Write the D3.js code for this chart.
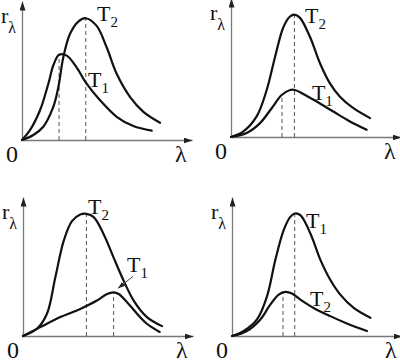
<!DOCTYPE html>
<html>
<head>
<meta charset="utf-8">
<script src="https://cdn.jsdelivr.net/npm/d3@7"></script>
<style>
  body { margin: 0; background: #fff; }
</style>
</head>
<body>
<div id="chart"></div>
<script>
// curve samples, [lambda, r] in arbitrary units (0..10)
const p1T1 = [[0,0],[0.47,0.71],[1.06,2.14],[1.55,4.05],[1.84,5.36],[2.18,6.14],[2.63,6.07],[3.2,5.24],[3.8,4.05],[4.59,2.86],[5.57,1.67],[6.55,1.0],[7.63,0.67]];
const p1T2 = [[0,0],[0.67,0.36],[1.25,0.95],[1.84,2.38],[2.14,3.81],[2.43,5.95],[2.82,7.62],[3.31,8.52],[3.75,8.76],[4.39,8.21],[4.98,6.67],[5.57,4.76],[6.35,3.1],[7.14,2.02],[8.12,1.24]];

const p2T1 = [[0,0],[0.92,0.29],[1.71,1.0],[2.39,2.07],[2.98,3.02],[3.47,3.38],[3.76,3.38],[4.25,3.1],[5.04,2.55],[6.02,1.83],[7.0,1.12],[7.98,0.52]];
const p2T2 = [[0,0],[0.73,0.4],[1.51,1.48],[2.1,3.38],[2.59,5.76],[3.08,7.9],[3.47,8.67],[3.73,8.81],[4.06,8.57],[4.65,7.19],[5.24,5.29],[5.82,3.86],[6.41,2.9],[7.2,2.07],[8.18,1.36]];

const p3T1 = [[0,0],[1.02,0.64],[2.2,1.36],[3.37,1.95],[4.35,2.55],[4.94,3.02],[5.33,3.14],[5.63,3.02],[6.12,2.43],[6.71,1.6],[7.29,0.88],[8.04,0.29]];
const p3T2 = [[0,0],[0.82,0.52],[1.41,1.6],[1.9,4.21],[2.39,6.83],[2.88,8.26],[3.37,8.74],[3.73,8.79],[4.16,8.55],[4.75,7.31],[5.33,5.64],[5.92,3.98],[6.51,2.55],[7.29,1.36],[8.18,0.71]];

const p4T1 = [[0,0],[0.69,0.36],[1.47,1.19],[2.06,2.86],[2.55,5.48],[3.04,7.62],[3.43,8.57],[3.69,8.81],[4.02,8.69],[4.61,7.38],[5.2,5.48],[5.78,4.05],[6.37,2.98],[7.16,2.02],[8.14,1.31]];
const p4T2 = [[0,0],[0.88,0.36],[1.67,1.19],[2.25,2.26],[2.75,2.98],[3.14,3.17],[3.53,3.05],[4.02,2.62],[4.8,2.02],[5.78,1.43],[6.76,0.9],[7.94,0.36]];

// dashed drop lines [lambda, r]
const p1Dash = [[2.18,6.14],[3.75,8.76]];
const p2Dash = [[3.0,3.0],[3.73,8.81]];
const p3Dash = [[3.73,8.79],[5.33,3.14]];
const p4Dash = [[3.0,3.1],[3.69,8.81]];

const curveNames = ["1", "2"];   // subscripts of T
const axisLabels = ["r", "\u03bb", "0"];

const serif = "'Liberation Serif', 'Times New Roman', 'DejaVu Serif', serif";
const width = 400, height = 363;
const svg = d3.select("#chart").append("svg")
  .attr("width", width).attr("height", height)
  .attr("font-family", serif);

const defs = svg.append("defs");
defs.append("marker")
  .attr("id", "arrow")
  .attr("viewBox", "0 -3 9 6")
  .attr("refX", 9).attr("refY", 0)
  .attr("markerUnits", "userSpaceOnUse")
  .attr("markerWidth", 9).attr("markerHeight", 6)
  .attr("orient", "auto")
  .append("path").attr("d", "M0,-3L9,0L0,3Z").attr("fill", "#222");
defs.append("marker")
  .attr("id", "arrowSmall")
  .attr("viewBox", "0 -2.5 7 5")
  .attr("refX", 7).attr("refY", 0)
  .attr("markerUnits", "userSpaceOnUse")
  .attr("markerWidth", 7).attr("markerHeight", 5)
  .attr("orient", "auto")
  .append("path").attr("d", "M0,-2.5L7,0L0,2.5Z").attr("fill", "#222");

// layout of the four panels; label anchors in data units
const panels = [
  { ox: 22,  oy: 140, curves: [p1T1, p1T2], dash: p1Dash, lab: [[3.88,3.79],[4.41,8.57]] },
  { ox: 231, oy: 137, curves: [p2T1, p2T2], dash: p2Dash, lab: [[4.76,2.64],[4.35,8.21]] },
  { ox: 23,  oy: 336, curves: [p3T1, p3T2], dash: p3Dash, lab: [[6.12,4.57],[3.82,8.79]], pointer: [[6.47,4.29],[5.59,3.43]] },
  { ox: 232, oy: 336, curves: [p4T2, p4T1], dash: p4Dash, lab: [[4.59,2.14],[4.35,7.79]], swap: true }
];

panels.forEach(p => {
  const x = d3.scaleLinear().domain([0, 10]).range([p.ox, p.ox + 170]);
  const y = d3.scaleLinear().domain([0, 10]).range([p.oy, p.oy - 139]);
  const g = svg.append("g");

  // axes
  const xa = g.append("g").attr("transform", `translate(0,${p.oy})`)
    .call(d3.axisBottom(x).ticks(0).tickSizeOuter(0));
  const ya = g.append("g").attr("transform", `translate(${p.ox},0)`)
    .call(d3.axisLeft(y).ticks(0).tickSizeOuter(0));
  [xa, ya].forEach(a => a.select(".domain")
    .attr("stroke", "#7a7a7a").attr("stroke-width", 1.3)
    .attr("marker-end", "url(#arrow)"));

  // dashed drop lines
  g.selectAll(".drop").data(p.dash).join("line")
    .attr("x1", d => x(d[0])).attr("x2", d => x(d[0]))
    .attr("y1", y(0)).attr("y2", d => y(d[1]))
    .attr("stroke", "#555").attr("stroke-width", 1)
    .attr("stroke-dasharray", "4,3");

  // curves
  const line = d3.line().x(d => x(d[0])).y(d => y(d[1]))
    .curve(d3.curveCatmullRom.alpha(0.5));
  g.selectAll(".curve").data(p.curves).join("path")
    .attr("d", line)
    .attr("fill", "none").attr("stroke", "#111").attr("stroke-width", 2.2)
    .attr("stroke-linecap", "round");

  // T labels
  p.lab.forEach((pos, i) => {
    const name = p.swap ? curveNames[1 - i] : curveNames[i];
    const t = g.append("text").attr("x", x(pos[0])).attr("y", y(pos[1]))
      .attr("font-family", serif).attr("fill", "#111")
      .attr("font-size", 22).text("T");
    t.append("tspan").attr("font-size", 15).attr("dy", 6).text(name);
  });

  if (p.pointer) {
    g.append("line")
      .attr("x1", x(p.pointer[0][0])).attr("y1", y(p.pointer[0][1]))
      .attr("x2", x(p.pointer[1][0])).attr("y2", y(p.pointer[1][1]))
      .attr("stroke", "#444").attr("stroke-width", 1)
      .attr("marker-end", "url(#arrowSmall)");
  }

  // axis labels
  const r = g.append("text").attr("x", p.ox - 21).attr("y", p.oy - 117)
    .attr("font-family", serif).attr("fill", "#111")
    .attr("font-size", 22).text(axisLabels[0]);
  r.append("tspan").attr("font-size", 16).attr("dy", 10).text(axisLabels[1]);
  g.append("text").attr("x", p.ox + 153).attr("y", p.oy + 22)
    .attr("font-family", serif).attr("fill", "#111")
    .attr("font-size", 24).text(axisLabels[1]);
  g.append("text").attr("x", p.ox - 16).attr("y", p.oy + 22)
    .attr("font-family", serif).attr("fill", "#111")
    .attr("font-size", 24).text(axisLabels[2]);
});
</script>
</body>
</html>
